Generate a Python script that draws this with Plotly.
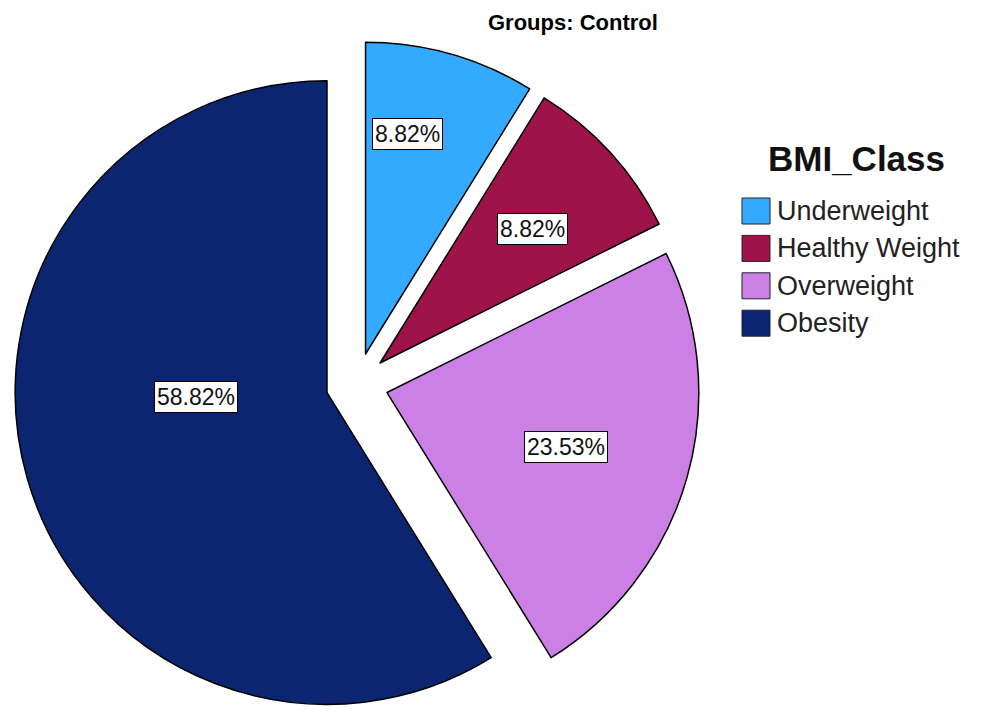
import math
import plotly.graph_objects as go

# ---- data ----
categories = ["Underweight", "Healthy Weight", "Overweight", "Obesity"]
counts = [3, 3, 8, 20]
title_text = "Groups: Control"
legend_title = "BMI_Class"

# ---- styles ----
colors = ["#33AAFF", "#9E1349", "#CC80E6", "#0B2570"]
pull_frac = 0.1
label_radius_frac = [0.72, 0.65, 0.60, 0.42]
label_angle_offset = [-5, 1, 1, 14]

W, H = 981, 727
cx_px, cy_px = 357, 384
half = 343  # half size of pie domain in px

dom_x = [(cx_px - half) / W, (cx_px + half) / W]
dom_y = [1 - (cy_px + half) / H, 1 - (cy_px - half) / H]

fig = go.Figure()
fig.add_trace(go.Pie(
    labels=categories,
    values=counts,
    sort=False,
    direction="clockwise",
    rotation=0,
    pull=[pull_frac] * len(counts),
    marker=dict(colors=colors, line=dict(color="#000000", width=1.5)),
    textinfo="none",
    hoverinfo="label+percent",
    showlegend=False,
    domain=dict(x=dom_x, y=dom_y),
))

# percentage labels in white boxes, positioned from the data angles
R = half / (1 + pull_frac)
total = sum(counts)
cum = 0.0
annotations = []
for i, v in enumerate(counts):
    mid = (cum + v / 2) / total * 360.0
    cum += v
    th = math.radians(mid)
    vx = cx_px + pull_frac * R * math.sin(th)
    vy = cy_px - pull_frac * R * math.cos(th)
    th2 = math.radians(mid + label_angle_offset[i])
    lx = vx + label_radius_frac[i] * R * math.sin(th2)
    ly = vy - label_radius_frac[i] * R * math.cos(th2)
    pct = v / total * 100
    annotations.append(dict(
        x=lx / W, y=1 - ly / H, xref="paper", yref="paper",
        text=f"{pct:.2f}%", showarrow=False,
        font=dict(family="Liberation Sans, Arial, sans-serif", size=23, color="#111111"),
        bgcolor="#FFFFFF", bordercolor="#000000", borderwidth=1, borderpad=2,
        xanchor="center", yanchor="middle",
    ))

# title
annotations.append(dict(
    x=573 / W, y=1 - 22 / H, xref="paper", yref="paper", text=f"<b>{title_text}</b>",
    showarrow=False, font=dict(family="Liberation Sans, Arial, sans-serif", size=22, color="#000000"),
    xanchor="center", yanchor="middle",
))

# custom legend
shapes = []
annotations.append(dict(
    x=766 / W, y=1 - 158 / H, xref="paper", yref="paper", text=f"<b>{legend_title}</b>",
    showarrow=False, font=dict(family="Liberation Sans, Arial, sans-serif", size=35, color="#111111"),
    xanchor="left", yanchor="middle",
))
leg_y0, leg_dy = 211, 37.4
for i, name in enumerate(categories):
    yc = leg_y0 + i * leg_dy
    shapes.append(dict(
        type="rect", xref="paper", yref="paper",
        x0=742 / W, x1=770 / W, y0=1 - (yc - 13) / H, y1=1 - (yc + 13) / H,
        fillcolor=colors[i], line=dict(color="#222233", width=1),
    ))
    annotations.append(dict(
        x=775 / W, y=1 - yc / H, xref="paper", yref="paper", text=name,
        showarrow=False, font=dict(family="Liberation Sans, Arial, sans-serif", size=27, color="#222222"),
        xanchor="left", yanchor="middle",
    ))

fig.update_layout(
    width=W, height=H,
    margin=dict(l=0, r=0, t=0, b=0),
    paper_bgcolor="#FFFFFF", plot_bgcolor="#FFFFFF",
    annotations=annotations, shapes=shapes,
    showlegend=False,
)

fig.write_html("out.html")
